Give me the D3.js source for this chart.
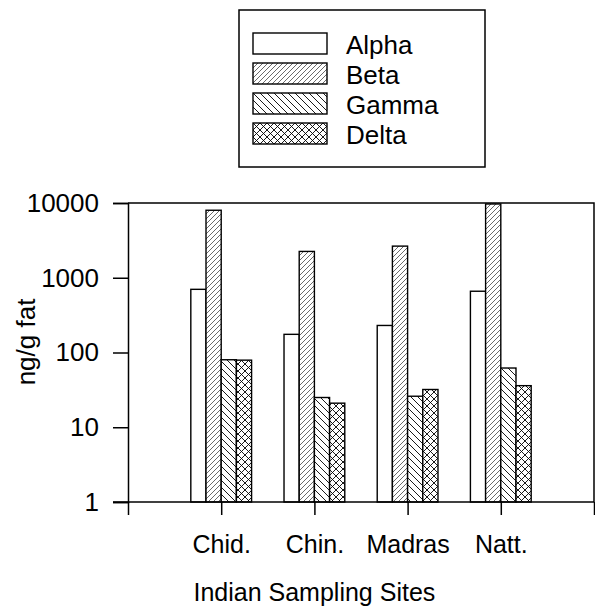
<!DOCTYPE html>
<html>
<head>
<meta charset="utf-8">
<script src="https://cdn.jsdelivr.net/npm/d3@7"></script>
<style>
    body { margin: 0; background: #fff; }
    svg text { font-family: "Liberation Sans", Arial, Helvetica, sans-serif; fill: #000; }
</style>
</head>
<body>
<script>
const sites = ["Chid.", "Chin.", "Madras", "Natt."];
const seriesNames = ["Alpha", "Beta", "Gamma", "Delta"];
const alpha = [700, 175, 230, 660];
const beta = [8000, 2250, 2650, 9700];
const gamma = [80, 25, 26, 62];
const delta = [79, 21, 32, 36];
const yTicks = [1, 10, 100, 1000, 10000];

window.onload = initPage;

function initPage() {
    const svgInfo = {
        SVG_WIDTH: 595,
        SVG_HEIGHT: 610,
        SVG_ID: "svgVis",
    };
    const svg = d3.select("body")
        .append("svg")
        .attr("width", svgInfo.SVG_WIDTH)
        .attr("height", svgInfo.SVG_HEIGHT)
        .attr("id", svgInfo.SVG_ID);
    initPatterns(svg);
    drawChart(svg);
    drawLegend(svg);
}

function initPatterns(svg) {
    const defs = svg.append("defs");
    // Beta: fine forward slashes
    defs.append("pattern")
        .attr("id", "hatchBeta")
        .attr("patternUnits", "userSpaceOnUse")
        .attr("width", 5).attr("height", 5)
        .call((p) => {
            p.append("rect").attr("width", 5).attr("height", 5).attr("fill", "#fff");
            p.append("path").attr("d", "M-1,6 L6,-1 M-1,1 L1,-1 M4,6 L6,4")
                .attr("stroke", "#444").attr("stroke-width", 0.8);
        });
    // Gamma: back slashes
    defs.append("pattern")
        .attr("id", "hatchGamma")
        .attr("patternUnits", "userSpaceOnUse")
        .attr("width", 7).attr("height", 7)
        .call((p) => {
            p.append("rect").attr("width", 7).attr("height", 7).attr("fill", "#fff");
            p.append("path").attr("d", "M-1,-1 L8,8 M-1,6 L1,8 M6,-1 L8,1")
                .attr("stroke", "#000").attr("stroke-width", 0.9);
        });
    // Delta: cross hatch
    defs.append("pattern")
        .attr("id", "hatchDelta")
        .attr("patternUnits", "userSpaceOnUse")
        .attr("width", 7).attr("height", 7)
        .call((p) => {
            p.append("rect").attr("width", 7).attr("height", 7).attr("fill", "#fff");
            p.append("path").attr("d", "M-1,-1 L8,8 M-1,6 L1,8 M6,-1 L8,1 M-1,8 L8,-1 M-1,1 L1,-1 M6,8 L8,6")
                .attr("stroke", "#000").attr("stroke-width", 0.9);
        });
}

const fills = ["#fff", "url(#hatchBeta)", "url(#hatchGamma)", "url(#hatchDelta)"];

function drawChart(svg) {
    const left = 128, right = 594, top = 203, bottom = 502;
    const x = d3.scaleLinear().domain([0, 5]).range([left, right]);
    const y = d3.scaleLog().domain([1, 10000]).range([bottom, top]);
    const barW = x(0.163) - x(0);

    const series = [alpha, beta, gamma, delta];
    const rows = [];
    series.forEach((vals, si) => {
        vals.forEach((v, i) => rows.push({ s: si, site: i + 1, v: v }));
    });

    svg.append("g")
        .selectAll("rect")
        .data(rows)
        .enter()
        .append("rect")
        .attr("x", (d) => x(d.site) + (d.s - 2) * barW)
        .attr("y", (d) => y(d.v))
        .attr("width", barW)
        .attr("height", (d) => y(1) - y(d.v))
        .attr("fill", (d) => fills[d.s])
        .attr("stroke", "#000")
        .attr("stroke-width", 1.4);

    // frame top and right
    svg.append("path")
        .attr("d", `M${left},${top} H${right} V${bottom}`)
        .attr("fill", "none").attr("stroke", "#000").attr("stroke-width", 1.5);

    const yAxis = d3.axisLeft(y)
        .tickValues(yTicks)
        .tickFormat(d3.format("d"))
        .tickSize(15)
        .tickPadding(14);
    const gy = svg.append("g").attr("transform", `translate(${left},0)`).call(yAxis);
    gy.select(".domain").attr("stroke-width", 1.5);
    gy.selectAll(".tick line").attr("stroke-width", 1.5);
    gy.selectAll("text").style("font-size", "26px");

    const xAxis = d3.axisBottom(x)
        .tickValues([0, 1, 2, 3, 4, 5])
        .tickFormat((d) => sites[d - 1] || "")
        .tickSize(13)
        .tickSizeOuter(0)
        .tickPadding(20);
    const gx = svg.append("g").attr("transform", `translate(0,${bottom})`).call(xAxis);
    gx.select(".domain").attr("d", `M${left - 15},0H${right}`).attr("stroke-width", 1.5);
    gx.selectAll(".tick line").attr("stroke-width", 1.5);
    gx.selectAll("text").style("font-size", "25px");

    svg.append("text")
        .attr("x", x(2.0))
        .attr("y", 601)
        .attr("text-anchor", "middle")
        .style("font-size", "25px")
        .text("Indian Sampling Sites");

    svg.append("text")
        .attr("transform", "translate(35,342) rotate(-90)")
        .attr("text-anchor", "middle")
        .style("font-size", "26px")
        .text("ng/g fat");
}

function drawLegend(svg) {
    const g = svg.append("g");
    g.append("rect")
        .attr("x", 239).attr("y", 10)
        .attr("width", 246).attr("height", 157)
        .attr("fill", "#fff").attr("stroke", "#000").attr("stroke-width", 1.5);
    const item = g.selectAll(".item")
        .data(seriesNames)
        .enter()
        .append("g")
        .attr("class", "item")
        .attr("transform", (d, i) => `translate(253,${33 + i * 30})`);
    item.append("rect")
        .attr("width", 74).attr("height", 21)
        .attr("fill", (d, i) => fills[i])
        .attr("stroke", "#000").attr("stroke-width", 1.4);
    item.append("text")
        .attr("x", 93).attr("y", 21)
        .style("font-size", "26px")
        .text((d) => d);
}
</script>
</body>
</html>
